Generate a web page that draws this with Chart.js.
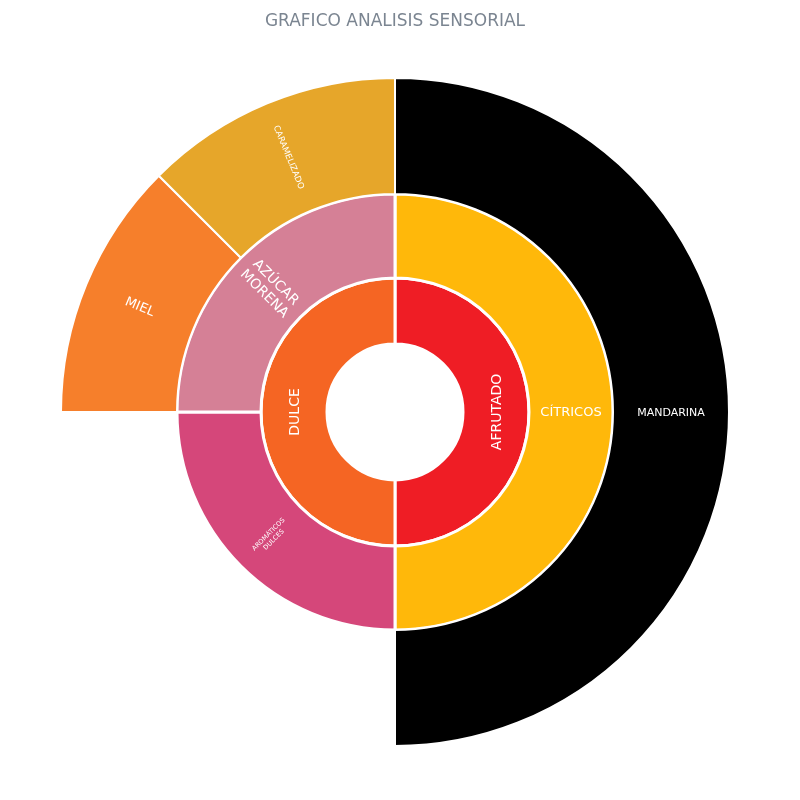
<!DOCTYPE html>
<html>
<head>
<meta charset="utf-8">
<script src="https://cdn.jsdelivr.net/npm/chart.js@4.4.1/dist/chart.umd.min.js"></script>
<style>
  html, body { margin: 0; padding: 0; background: #ffffff; }
  #wrap { width: 800px; height: 800px; position: relative; }
</style>
</head>
<body>
<div id="wrap"><canvas id="c" width="800" height="800"></canvas></div>
<script>
// ---- Data (inner ring → outer ring, clockwise from top) ----
const titleText = 'GRAFICO ANALISIS SENSORIAL';

const ring1Labels = ['AFRUTADO', 'DULCE'];
const ring1Values = [4, 4];
const ring1Colors = ['#EF1D25', '#F56523'];

const ring2Labels = ['CÍTRICOS', 'AROMÁTICOS DULCES', 'AZÚCAR MORENA'];
const ring2Values = [4, 2, 2];
const ring2Colors = ['#FFB80A', '#D5477A', '#D58096'];

// '' marks the empty space (AROMÁTICOS DULCES has no children)
const ring3Labels = ['MANDARINA', '', 'MIEL', 'CARAMELIZADO'];
const ring3Values = [4, 2, 1, 1];
const ring3Colors = ['#000000', 'rgba(0,0,0,0)', '#F67F2B', '#E6A62A'];

// ---- Styling (not data) ----
const labelFontSize = {
  'AFRUTADO': 14, 'DULCE': 14,
  'CÍTRICOS': 13, 'AROMÁTICOS DULCES': 6.5, 'AZÚCAR MORENA': 14,
  'MANDARINA': 11, 'MIEL': 13, 'CARAMELIZADO': 8.5
};
const FONT = "'DejaVu Sans', Verdana, sans-serif";

function normAngle(t) {
  while (t >= Math.PI / 2 - 1e-6) t -= Math.PI;
  while (t < -Math.PI / 2 - 1e-6) t += Math.PI;
  return t;
}

const sunLabels = {
  id: 'sunLabels',
  afterDatasetsDraw(chart) {
    const ctx = chart.ctx;
    chart.data.datasets.forEach((ds, di) => {
      const meta = chart.getDatasetMeta(di);
      meta.data.forEach((arc, i) => {
        const text = ds.sectorLabels[i];
        if (!text) return;
        const p = arc.getProps(['x', 'y', 'startAngle', 'endAngle', 'innerRadius', 'outerRadius'], true);
        const a = (p.startAngle + p.endAngle) / 2;
        const r = (p.innerRadius + p.outerRadius) / 2;
        const x = p.x + Math.cos(a) * r;
        const y = p.y + Math.sin(a) * r;
        const rot = ds.labelOrientation === 'tangential' ? normAngle(a + Math.PI / 2) : normAngle(a);
        const size = labelFontSize[text] || 12;
        const lines = text.split(' ');
        const lh = size * 1.15;
        ctx.save();
        ctx.translate(x, y);
        ctx.rotate(rot);
        ctx.fillStyle = '#ffffff';
        ctx.font = size + 'px ' + FONT;
        ctx.textAlign = 'center';
        ctx.textBaseline = 'middle';
        lines.forEach((ln, k) => {
          ctx.fillText(ln, 0, (k - (lines.length - 1) / 2) * lh + 1);
        });
        ctx.restore();
      });
    });
  }
};

new Chart(document.getElementById('c'), {
  type: 'doughnut',
  data: {
    labels: ring3Labels,
    datasets: [
      {
        data: ring3Values,
        sectorLabels: ring3Labels,
        backgroundColor: ring3Colors,
        borderColor: '#ffffff',
        borderWidth: ring3Labels.map(l => l ? 2 : 0),
        weight: 116,
        labelOrientation: 'radial'
      },
      {
        data: ring2Values,
        sectorLabels: ring2Labels,
        backgroundColor: ring2Colors,
        borderColor: '#ffffff',
        borderWidth: 3,
        weight: 84,
        labelOrientation: 'radial'
      },
      {
        data: ring1Values,
        sectorLabels: ring1Labels,
        backgroundColor: ring1Colors,
        borderColor: '#ffffff',
        borderWidth: 3,
        weight: 66,
        labelOrientation: 'tangential'
      }
    ]
  },
  options: {
    responsive: false,
    animation: false,
    radius: 334,
    cutout: '20.36%',
    layout: { padding: { left: 0, right: 10, top: 0, bottom: 17.5 } },
    plugins: {
      legend: { display: false },
      tooltip: { enabled: false },
      title: {
        display: true,
        text: titleText,
        color: '#7b8591',
        font: { family: FONT, size: 17, weight: 'normal' },
        padding: { top: 11, bottom: 10 }
      }
    }
  },
  plugins: [sunLabels]
});
</script>
</body>
</html>
